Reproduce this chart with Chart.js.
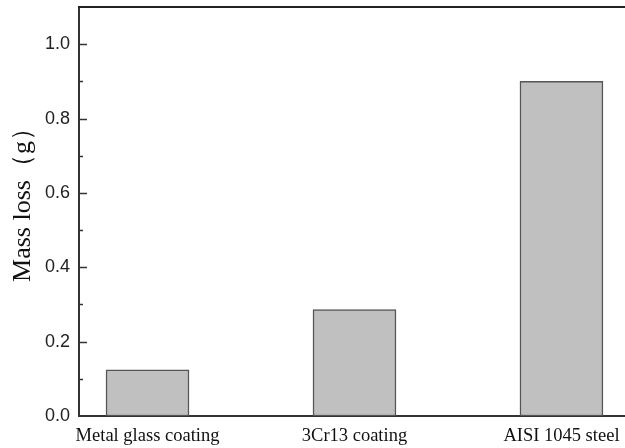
<!DOCTYPE html>
<html>
<head>
<meta charset="utf-8">
<script src="https://cdn.jsdelivr.net/npm/chart.js@4.4.1/dist/chart.umd.min.js"></script>
<style>
	html, body { margin: 0; padding: 0; background: #fff; }
	#wrap { width: 625px; height: 448px; }
</style>
</head>
<body>
<div id="wrap"><canvas id="c" width="625" height="448"></canvas></div>
<script>
const categories = ['Metal glass coating', '3Cr13 coating', 'AISI 1045 steel'];
const positions = [1, 2, 3];
const massLoss = [0.124, 0.286, 0.9];
const yTicks = [0.0, 0.2, 0.4, 0.6, 0.8, 1.0];

// inward tick marks + top frame line
const frame = {
	id: 'frame',
	afterDraw (chart)
	{
		const ctx = chart.ctx;
		const a = chart.chartArea;
		const y = chart.scales.y;
		ctx.save();
		ctx.strokeStyle = '#222';
		ctx.lineWidth = 2;
		ctx.beginPath();
		ctx.moveTo(a.left - 1, a.top);
		ctx.lineTo(a.right, a.top);
		ctx.stroke();
		ctx.lineWidth = 1.5;
		ctx.strokeStyle = '#333';
		for (let i = 1; i <= 10; i++) {
			const v = i / 10;
			const py = Math.round(y.getPixelForValue(v)) + 0.5;
			const len = (i % 2 === 0) ? 8 : 4;
			ctx.beginPath();
			ctx.moveTo(a.left, py);
			ctx.lineTo(a.left + len, py);
			ctx.stroke();
		}
		ctx.restore();
	}
};

new Chart(document.getElementById('c').getContext('2d'), {
	type: 'bar',
	data: {
		datasets: [{
			data: positions.map((p, i) => ({ x: p, y: massLoss[i] })),
			backgroundColor: '#c0c0c0',
			borderColor: '#555',
			borderWidth: 1.5,
			borderSkipped: false,
			barThickness: 83,
		}]
	},
	options: {
		responsive: false,
		animation: false,
		layout: { padding: { left: 0, right: 0, top: 7, bottom: 0 } },
		plugins: { legend: { display: false }, tooltip: { enabled: false } },
		scales: {
			x: {
				type: 'linear',
				offset: false,
				bounds: 'data',
				min: 0.669,
				max: 3.307,
				afterBuildTicks: (s) => { s.ticks = positions.map(v => ({ value: v })); },
				afterFit: (s) => { s.height = 32; s.paddingLeft = 0; s.paddingRight = 0; },
				grid: { display: false, drawTicks: false },
				border: { display: true, color: '#333', width: 2 },
				ticks: {
					autoSkip: false,
					maxRotation: 0,
					padding: 9,
					color: '#111',
					font: { family: '"Liberation Serif", "Times New Roman", serif', size: 18.5 },
					callback: (v) => categories[positions.indexOf(v)] || ''
				}
			},
			y: {
				min: 0,
				max: 1.1,
				afterBuildTicks: (s) => { s.ticks = yTicks.map(v => ({ value: v })); },
				afterFit: (s) => { s.width = 79; s.paddingTop = 0; s.paddingBottom = 0; },
				grid: { display: false, drawTicks: false },
				border: { display: true, color: '#333', width: 2 },
				ticks: {
					padding: 9,
					color: '#222',
					font: { family: '"Liberation Sans", Arial, sans-serif', size: 18 },
					callback: (v) => v.toFixed(1)
				},
				title: {
					display: true,
					text: '\u2003Mass loss（g）',
					color: '#111',
					padding: { top: 8, bottom: 0 },
					font: { family: '"Liberation Serif", "Times New Roman", serif', size: 26 }
				}
			}
		}
	},
	plugins: [frame]
});
</script>
</body>
</html>
